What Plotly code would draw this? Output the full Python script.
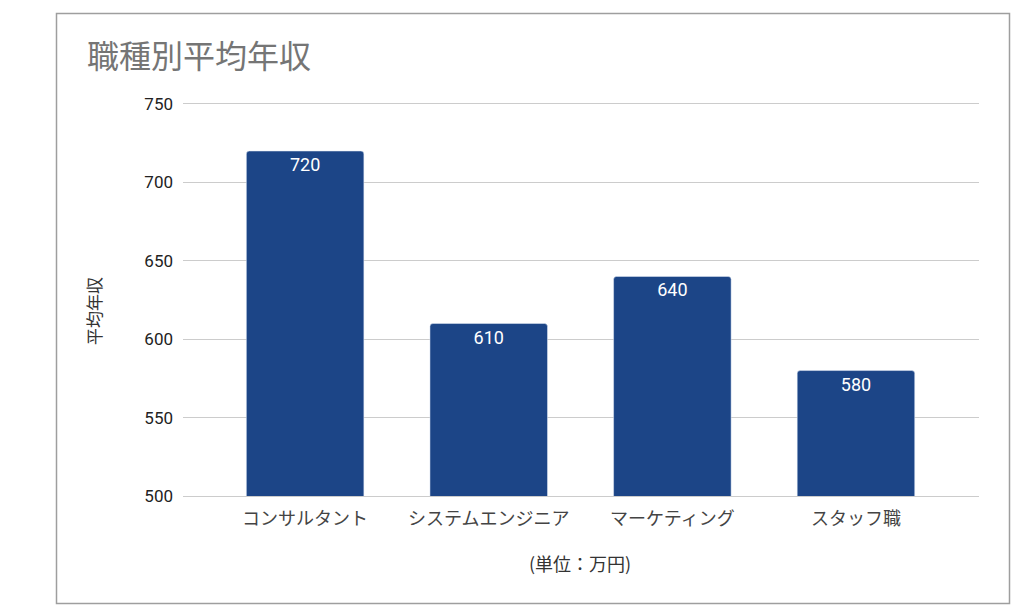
import plotly.graph_objects as go

# data
categories = ["コンサルタント", "システムエンジニア", "マーケティング", "スタッフ職"]
salaries = [720, 610, 640, 580]
y_ticks = [500, 550, 600, 650, 700, 750]

BAR_COLOR = "#1c4587"
NUM_FONT = "Roboto, 'Noto Sans CJK JP', sans-serif"
JP_FONT = "'Noto Sans CJK JP', sans-serif"

# plot area (page body adds an 8px offset)
L, T, W, H = 175, 96, 796, 392

fig = go.Figure()
fig.add_trace(go.Bar(
    x=categories,
    y=salaries,
    marker_color=BAR_COLOR,
    marker_cornerradius=3,
    width=0.64,
    text=[str(v) for v in salaries],
    textposition="inside",
    insidetextanchor="end",
    textfont=dict(color="white", size=18, family=NUM_FONT),
    hovertemplate="%{x}: %{y}<extra></extra>",
))

fig.update_layout(
    width=1024,
    height=616,
    paper_bgcolor="white",
    plot_bgcolor="white",
    margin=dict(l=L, r=1024 - L - W, t=T, b=616 - T - H),
    font=dict(family=NUM_FONT, color="#222222"),
    showlegend=False,
    title=dict(
        text="職種別平均年収",
        x=79 / 1024, xanchor="left",
        y=1 - 49 / 616, yanchor="middle",
        font=dict(size=32, color="#757575", family=JP_FONT),
    ),
    xaxis=dict(
        range=[-0.665, 3.67],
        showgrid=False,
        tickfont=dict(size=18, color="#444444", family=JP_FONT),
        ticks="",
        ticklabelstandoff=6,
        # bottom/top lines stand in for the 500 and 750 gridlines
        showline=True,
        linecolor="#cccccc",
        linewidth=1,
        mirror=True,
    ),
    yaxis=dict(
        range=[min(y_ticks), max(y_ticks)],
        tickvals=y_ticks,
        showgrid=True,
        gridcolor="#cccccc",
        gridwidth=1,
        zeroline=False,
        showline=False,
        ticks="",
        ticklabelstandoff=9,
        tickfont=dict(size=17, color="#222222"),
    ),
    shapes=[dict(
        type="rect", xref="paper", yref="paper",
        x0=(56.5 - 183) / W, x1=(1009.5 - 183) / W,
        y0=(496 - 603.5) / H, y1=(496 - 13.5) / H,
        line=dict(color="#9e9e9e", width=1.5),
        fillcolor="rgba(0,0,0,0)",
        layer="below",
    )],
    annotations=[
        dict(
            text="平均年収", xref="paper", yref="paper",
            x=(93 - 183) / W, y=(496 - 311) / H,
            xanchor="center", yanchor="middle",
            textangle=-90, showarrow=False,
            font=dict(size=17, color="#333333", family=JP_FONT),
        ),
        dict(
            text="(単位：万円)", xref="paper", yref="paper",
            x=(580 - 183) / W, y=(496 - 563) / H,
            xanchor="center", yanchor="middle",
            showarrow=False,
            font=dict(size=18, color="#333333", family=JP_FONT),
        ),
    ],
)

fig.write_html("out.html")
